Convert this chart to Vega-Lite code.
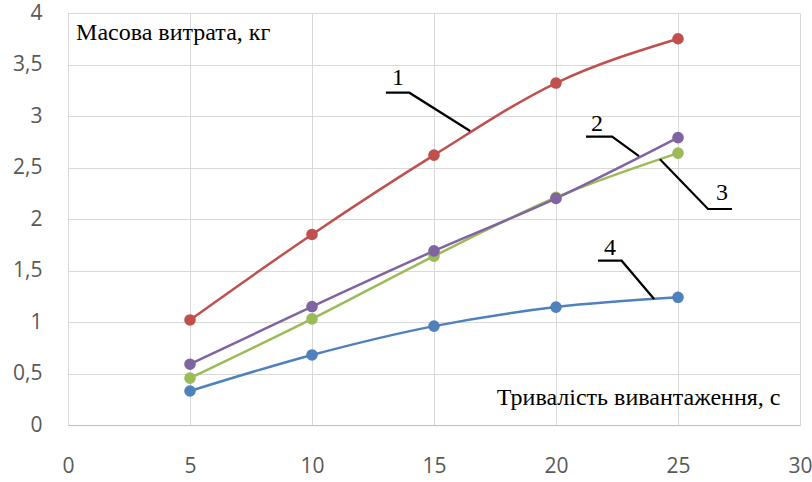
{
  "$schema": "https://vega.github.io/schema/vega-lite/v6.json",
  "width": 732,
  "height": 412,
  "autosize": {"type": "none"},
  "padding": {"left": 68, "top": 13, "right": 12, "bottom": 57},
  "background": "white",
  "config": {"view": {"stroke": null}},
  "datasets": {
    "series": [
      {"s": "1", "x": 5, "y": 1.02}, {"s": "1", "x": 10, "y": 1.85}, {"s": "1", "x": 15, "y": 2.62}, {"s": "1", "x": 20, "y": 3.32}, {"s": "1", "x": 25, "y": 3.75},
      {"s": "3", "x": 5, "y": 0.455}, {"s": "3", "x": 10, "y": 1.03}, {"s": "3", "x": 15, "y": 1.64}, {"s": "3", "x": 20, "y": 2.21}, {"s": "3", "x": 25, "y": 2.64},
      {"s": "2", "x": 5, "y": 0.59}, {"s": "2", "x": 10, "y": 1.15}, {"s": "2", "x": 15, "y": 1.69}, {"s": "2", "x": 20, "y": 2.2}, {"s": "2", "x": 25, "y": 2.79},
      {"s": "4", "x": 5, "y": 0.33}, {"s": "4", "x": 10, "y": 0.68}, {"s": "4", "x": 15, "y": 0.96}, {"s": "4", "x": 20, "y": 1.145}, {"s": "4", "x": 25, "y": 1.24}
    ],
    "leaders": [
      {"id": "1", "o": 0, "x": 13.03, "y": 3.226}, {"id": "1", "o": 1, "x": 13.99, "y": 3.226}, {"id": "1", "o": 2, "x": 16.48, "y": 2.854},
      {"id": "2", "o": 0, "x": 21.23, "y": 2.8}, {"id": "2", "o": 1, "x": 22.3, "y": 2.8}, {"id": "2", "o": 2, "x": 23.4, "y": 2.61},
      {"id": "3", "o": 0, "x": 27.21, "y": 2.097}, {"id": "3", "o": 1, "x": 26.23, "y": 2.097}, {"id": "3", "o": 2, "x": 24.26, "y": 2.58},
      {"id": "4", "o": 0, "x": 21.72, "y": 1.595}, {"id": "4", "o": 1, "x": 22.69, "y": 1.595}, {"id": "4", "o": 2, "x": 24.02, "y": 1.223}
    ],
    "numbers": [
      {"t": "1", "x": 13.52, "y": 3.37},
      {"t": "2", "x": 21.68, "y": 2.92},
      {"t": "3", "x": 26.8, "y": 2.25},
      {"t": "4", "x": 22.21, "y": 1.72}
    ],
    "ytitle": [
      {"t": "Масова витрата, кг", "x": 0.33, "y": 3.81}
    ],
    "xtitle": [
      {"t": "Тривалість вивантаження, с", "x": 29.2, "y": 0.262}
    ]
  },
  "encoding": {
    "x": {
      "field": "x", "type": "quantitative",
      "scale": {"domain": [0, 30], "nice": false, "zero": false},
      "axis": {
        "title": null, "values": [0, 5, 10, 15, 20, 25, 30],
        "grid": true, "gridColor": "#D9D9D9", "gridWidth": 1,
        "domain": true, "domainColor": "#BFBFBF", "domainWidth": 1,
        "ticks": false, "labelPadding": 30, "labelFlush": false, "labelOverlap": false,
        "labelFont": "Open Sans", "labelFontSize": 21, "labelColor": "#595959"
      }
    },
    "y": {
      "field": "y", "type": "quantitative",
      "scale": {"domain": [0, 4], "nice": false, "zero": false},
      "axis": {
        "title": null, "values": [0, 0.5, 1, 1.5, 2, 2.5, 3, 3.5, 4],
        "format": "~g", "labelExpr": "replace(datum.label, '.', ',')",
        "grid": true, "gridColor": "#D9D9D9", "gridWidth": 1,
        "domain": false, "ticks": false, "labelPadding": 26, "labelFlush": false, "labelOverlap": false,
        "labelFont": "Open Sans", "labelFontSize": 21, "labelColor": "#595959"
      }
    }
  },
  "layer": [
    {
      "data": {"name": "series"},
      "mark": {"type": "line", "interpolate": "monotone", "strokeWidth": 2.5},
      "encoding": {
        "color": {"field": "s", "type": "nominal", "legend": null,
          "scale": {"domain": ["1", "2", "3", "4"], "range": ["#C0504D", "#8064A2", "#9BBB59", "#4F81BD"]}},
        "detail": {"field": "s"}
      }
    },
    {
      "data": {"name": "series"},
      "mark": {"type": "point", "filled": true, "size": 135, "opacity": 1},
      "encoding": {
        "color": {"field": "s", "type": "nominal", "legend": null,
          "scale": {"domain": ["1", "2", "3", "4"], "range": ["#C0504D", "#8064A2", "#9BBB59", "#4F81BD"]}}
      }
    },
    {
      "data": {"name": "leaders"},
      "mark": {"type": "line", "color": "black", "strokeWidth": 2.2},
      "encoding": {
        "detail": {"field": "id"},
        "order": {"field": "o", "type": "quantitative"}
      }
    },
    {
      "data": {"name": "numbers"},
      "mark": {"type": "text", "font": "Liberation Serif", "fontSize": 24, "color": "black", "align": "center", "baseline": "middle"},
      "encoding": {"text": {"field": "t"}}
    },
    {
      "data": {"name": "ytitle"},
      "mark": {"type": "text", "font": "Liberation Serif", "fontSize": 24, "color": "black", "align": "left", "baseline": "middle"},
      "encoding": {"text": {"field": "t"}}
    },
    {
      "data": {"name": "xtitle"},
      "mark": {"type": "text", "font": "Liberation Serif", "fontSize": 24, "color": "black", "align": "right", "baseline": "middle"},
      "encoding": {"text": {"field": "t"}}
    }
  ]
}
